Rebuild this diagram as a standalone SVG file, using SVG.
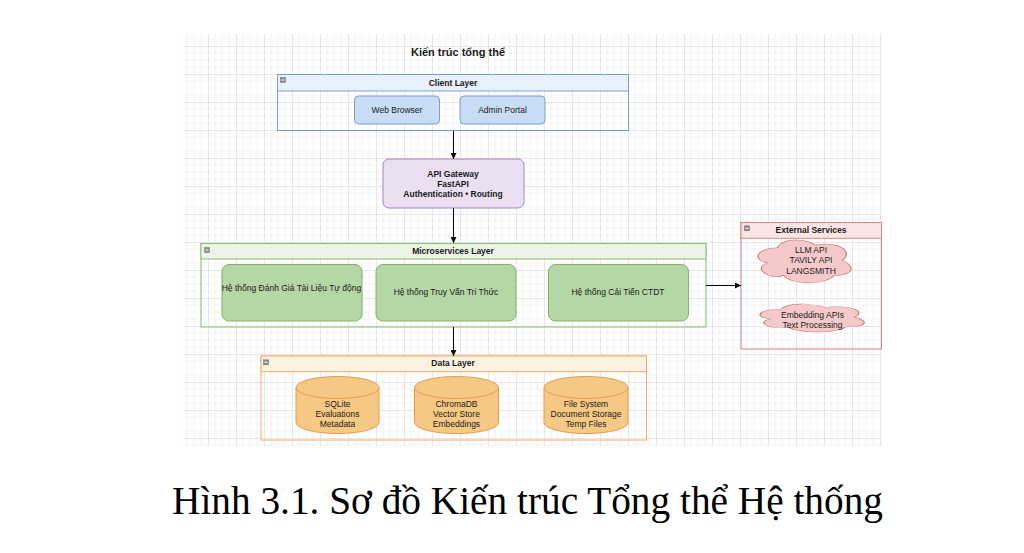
<svg xmlns="http://www.w3.org/2000/svg" width="1024" height="553" viewBox="0 0 1024 553">
<style>
text{font-family:"Liberation Sans",Arial,sans-serif;fill:#1a1a1a}
.t{font-size:8.5px;text-anchor:middle}
.b{font-weight:bold}
.title{font-size:11px;font-weight:bold;text-anchor:middle}
.cap{font-family:"Liberation Serif","Times New Roman",serif;font-size:39.3px;fill:#000}
.body{fill:none}
.edge{stroke:#000;stroke-width:1;fill:none;marker-end:url(#arr)}
.icon{fill:#8c8c8c;stroke:#6e6e6e;stroke-width:0.5}
.iconl{stroke:#fff;stroke-width:1}
</style>
<defs>
<pattern id="grid" patternUnits="userSpaceOnUse" x="12" y="18" width="28" height="28">
<path d="M7 0V28M14 0V28M21 0V28M0 7H28M0 14H28M0 21H28" stroke="#f3f3f3" stroke-width="1" fill="none"/>
<path d="M0.5 0V28M0 0.5H28" stroke="#e6e6e6" stroke-width="1" fill="none"/>
</pattern>
<marker id="arr" viewBox="0 0 10 10" refX="10" refY="5" markerWidth="6" markerHeight="6" markerUnits="userSpaceOnUse" orient="auto">
<path d="M0 0L10 5L0 10z" fill="#000"/>
</marker>
<path id="cloud" d="M25,25 C5,25 0,50 16,55 C0,66 18,90 31,80 C40,100 70,100 80,80 C100,80 100,60 87.5,50 C100,30 80,10 62.5,20 C50,5 30,5 25,25 Z"/>
</defs>
<rect width="1024" height="553" fill="#fff"/>
<rect x="183" y="34" width="699" height="412" fill="url(#grid)"/>

<text class="title" x="458" y="55.5">Kiến trúc tổng thể</text>

<g id="client-layer">
<rect x="277.5" y="74.5" width="351" height="56" class="body" stroke="#7c9ecf"/>
<rect x="277.5" y="74.5" width="351" height="16.5" fill="#e7f2fc" stroke="#7c9ecf"/>
<rect x="280.5" y="77.5" width="5" height="5" class="icon"/><line x1="281.5" y1="80" x2="284.5" y2="80" class="iconl"/>
<text class="t b" x="453" y="85.8">Client Layer</text>
</g>
<g id="web-browser">
<rect x="354.5" y="96" width="85" height="28" rx="4" fill="#c9dcf5" stroke="#7c9ecf"/>
<text class="t" x="397" y="113">Web Browser</text>
</g>
<g id="admin-portal">
<rect x="460" y="96" width="85" height="28" rx="4" fill="#c9dcf5" stroke="#7c9ecf"/>
<text class="t" x="502.5" y="113">Admin Portal</text>
</g>

<g id="api-gateway">
<rect x="383" y="159" width="141" height="49" rx="6" fill="#ebdff1" stroke="#a583b8"/>
<text class="t b" x="453" y="176.5">API Gateway</text>
<text class="t b" x="453" y="186.7">FastAPI</text>
<text class="t b" x="453" y="196.9">Authentication • Routing</text>
</g>

<g id="microservices-layer">
<rect x="201" y="243.5" width="505" height="83.5" class="body" stroke="#8dbb76"/>
<rect x="201" y="243.5" width="505" height="15.5" fill="#ebf4e7" stroke="#8dbb76"/>
<rect x="204.5" y="247.5" width="5" height="5" class="icon"/><line x1="205.5" y1="250" x2="208.5" y2="250" class="iconl"/>
<text class="t b" x="453" y="254">Microservices Layer</text>
</g>
<g id="svc-danh-gia">
<rect x="222" y="264.5" width="140" height="56.5" rx="7" fill="#b5d6a5" stroke="#82b366"/>
<text class="t" x="291.5" y="290.8">Hệ thống Đánh Giá Tài Liệu Tự động</text>
</g>
<g id="svc-truy-van">
<rect x="376" y="264.5" width="140" height="56.5" rx="7" fill="#b5d6a5" stroke="#82b366"/>
<text class="t" x="446" y="295.3">Hệ thống Truy Vấn Tri Thức</text>
</g>
<g id="svc-cai-tien">
<rect x="548.5" y="264.5" width="140" height="56.5" rx="7" fill="#b5d6a5" stroke="#82b366"/>
<text class="t" x="618" y="295.3">Hệ thống Cải Tiến CTDT</text>
</g>

<g id="external-services">
<rect x="741" y="222.5" width="140.5" height="126.5" class="body" stroke="#dc8585"/>
<rect x="741" y="222.5" width="140.5" height="15.8" fill="#fbe6e6" stroke="#dc8585"/>
<rect x="744.5" y="225.8" width="5" height="5" class="icon"/><line x1="745.5" y1="228.3" x2="748.5" y2="228.3" class="iconl"/>
<text class="t b" x="811" y="233.2">External Services</text>
</g>
<g id="llm-apis">
<use href="#cloud" transform="translate(751.2 235.3) scale(1.04 0.502)" fill="#f5c9c9" stroke="#c66a6a" vector-effect="non-scaling-stroke" style="vector-effect:non-scaling-stroke"/>
<text class="t" x="811" y="253.2">LLM API</text>
<text class="t" x="811" y="263.4">TAVILY API</text>
<text class="t" x="811" y="273.6">LANGSMITH</text>
</g>
<g id="embedding-apis">
<use href="#cloud" transform="translate(752.4 300.9) scale(1.164 0.327)" fill="#f5c9c9" stroke="#c66a6a" style="vector-effect:non-scaling-stroke"/>
<text class="t" x="812.5" y="318">Embedding APIs</text>
<text class="t" x="812.5" y="328.2">Text Processing</text>
</g>

<g id="data-layer">
<rect x="261" y="356" width="385.5" height="84" class="body" stroke="#f2ac68"/>
<rect x="261" y="356" width="385.5" height="15.7" fill="#fdf2e1" stroke="#f2ac68"/>
<rect x="263.5" y="359.8" width="5" height="5" class="icon"/><line x1="264.5" y1="362.3" x2="267.5" y2="362.3" class="iconl"/>
<text class="t b" x="453" y="366.4">Data Layer</text>
</g>
<g id="sqlite">
<path d="M296 387.5 A41.5 11 0 0 1 379 387.5 V422.5 A41.5 11 0 0 1 296 422.5 Z" fill="#f5c983" stroke="#e39d4e"/>
<path d="M296 387.5 A41.5 11 0 0 0 379 387.5" fill="none" stroke="#e39d4e"/>
<text class="t" x="337.5" y="406.5">SQLite</text>
<text class="t" x="337.5" y="416.6">Evaluations</text>
<text class="t" x="337.5" y="426.7">Metadata</text>
</g>
<g id="chromadb">
<path d="M414.5 387.5 A42 11 0 0 1 498.5 387.5 V422.5 A42 11 0 0 1 414.5 422.5 Z" fill="#f5c983" stroke="#e39d4e"/>
<path d="M414.5 387.5 A42 11 0 0 0 498.5 387.5" fill="none" stroke="#e39d4e"/>
<text class="t" x="456.5" y="406.5">ChromaDB</text>
<text class="t" x="456.5" y="416.6">Vector Store</text>
<text class="t" x="456.5" y="426.7">Embeddings</text>
</g>
<g id="file-system">
<path d="M544 387.5 A42 11 0 0 1 628 387.5 V422.5 A42 11 0 0 1 544 422.5 Z" fill="#f5c983" stroke="#e39d4e"/>
<path d="M544 387.5 A42 11 0 0 0 628 387.5" fill="none" stroke="#e39d4e"/>
<text class="t" x="586" y="406.5">File System</text>
<text class="t" x="586" y="416.6">Document Storage</text>
<text class="t" x="586" y="426.7">Temp Files</text>
</g>

<g id="connectors">
<line class="edge" x1="453.5" y1="131" x2="453.5" y2="159"/>
<line class="edge" x1="453.5" y1="208" x2="453.5" y2="243"/>
<line class="edge" x1="453.5" y1="327" x2="453.5" y2="356"/>
<line class="edge" x1="706" y1="285.5" x2="741" y2="285.5"/>
</g>

<text class="cap" x="172" y="513.5">Hình 3.1. Sơ đồ Kiến trúc Tổng thể Hệ thống</text>
</svg>
